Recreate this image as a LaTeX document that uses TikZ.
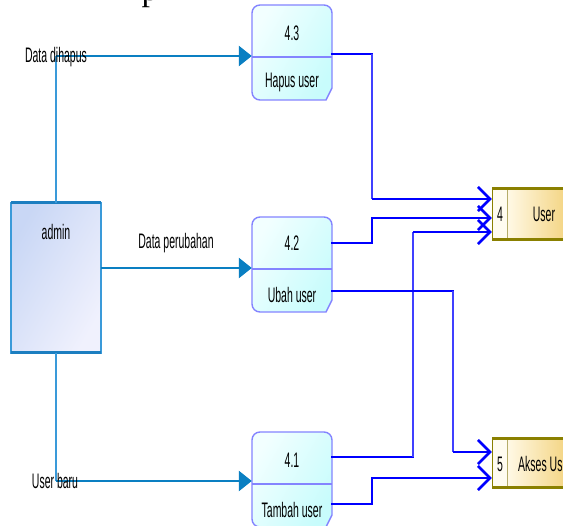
\documentclass[tikz,border=0pt]{standalone}
\usepackage{fontspec}
\setmainfont[FakeStretch=0.5]{Liberation Sans}
\newfontfamily\serifp{Liberation Serif}
\usetikzlibrary{arrows.meta,calc}
\definecolor{flowblue}{HTML}{0A7FC2}
\definecolor{flowthin}{HTML}{3A9AD9}
\definecolor{linkblue}{HTML}{0000FF}
\definecolor{procborder}{HTML}{8484FF}
\definecolor{procA}{HTML}{F2FFFF}
\definecolor{procB}{HTML}{C8FCFC}
\definecolor{admA}{HTML}{C9D7F5}
\definecolor{admB}{HTML}{F0F1FD}
\definecolor{admEdge}{HTML}{3A9AD9}
\definecolor{admThick}{HTML}{1C7EC0}
\definecolor{dsA}{HTML}{FFF9E6}
\definecolor{dsB}{HTML}{F2CF74}
\definecolor{dsCream}{HTML}{FFFCF0}
\definecolor{dsEdge}{HTML}{8A8000}
\definecolor{dsDiv}{HTML}{B5AD6A}
\tikzset{
  txt/.style={inner sep=0pt, font=\fontsize{21}{24}\selectfont, text=black},
  anchorbox/.style={rectangle, draw=none, inner sep=0pt},
  procline/.style={draw=procborder, line width=1.4pt},
  flowthick/.style={draw=flowblue, line width=2.6pt},
  flowarrow/.style={flowthick, -{Triangle[length=13pt,width=20pt]}},
  flowvert/.style={draw=flowthin, line width=1.1pt},
  linkthick/.style={draw=linkblue, line width=2.6pt, line cap=rect},
  linkthin/.style={draw=linkblue!75!white, line width=1.3pt},
  linkarrow/.style={draw=linkblue, line width=2.6pt, -{Straight Barb[length=12pt,width=24pt,line width=2.6pt]}},
}
\newcommand\procshape[4]{% L T R B
  \shade[left color=procA, right color=procB, shading angle=60]
    (#1,#2+8) arc[start angle=180,end angle=270,radius=8] -- (#3-8,#2)
    arc[start angle=270,end angle=360,radius=8] -- (#3,#4-12) -- (#3-6,#4)
    -- (#1+8,#4) arc[start angle=90,end angle=180,radius=8] -- cycle;
  \draw[procline]
    (#1,#2+8) arc[start angle=180,end angle=270,radius=8] -- (#3-8,#2)
    arc[start angle=270,end angle=360,radius=8] -- (#3,#4-12) -- (#3-6,#4)
    -- (#1+8,#4) arc[start angle=90,end angle=180,radius=8] -- cycle;
  \draw[procline] (#1,#2+52) -- (#3,#2+52);
}
\newcommand\storeshape[3]{% L T B
  \fill[dsCream] (#1,#2) rectangle (#1+15,#3);
  \shade[left color=dsA, right color=dsB] (#1+15,#2) rectangle (575,#3);
  \draw[dsEdge, line width=1pt] (#1,#2) -- (#1,#3);
  \draw[dsDiv, line width=1pt] (#1+15,#2) -- (#1+15,#3);
  \draw[dsEdge, line width=3pt] (#1,#2) -- (575,#2);
  \draw[dsEdge, line width=3pt] (#1,#3) -- (575,#3);
}
\begin{document}
\begin{tikzpicture}[x=1pt,y=-1pt]
\useasboundingbox (0,0) rectangle (563,526);
\clip (0,0) rectangle (563,526);
\fill[white] (0,0) rectangle (563,526);

% stray glyph at the top edge
\node[inner sep=0pt, anchor=base, font=\serifp\fontsize{34}{34}\selectfont] (topglyph) at (150,1) {p};

% shapes
\procshape{252}{5}{332}{100}
\procshape{252}{217}{332}{312}
\procshape{252}{432}{332}{527}
\storeshape{492}{189}{240}
\storeshape{492}{439}{488}
\shade[left color=admA, right color=admB, shading angle=60] (11,203) rectangle (101,353);
\draw[admEdge, line width=1.2pt] (11,203) rectangle (101,353);
\draw[admThick, line width=3pt] (11,203) -- (101,203);
\draw[admThick, line width=3pt] (11,353) -- (101,353);

% anchor nodes
\node[anchorbox, minimum width=80pt, minimum height=95pt] (p43) at (292,52.5) {};
\node[anchorbox, minimum width=80pt, minimum height=95pt] (p42) at (292,264.5) {};
\node[anchorbox, minimum width=80pt, minimum height=95pt] (p41) at (292,479.5) {};
\node[anchorbox, minimum width=90pt, minimum height=150pt] (admin) at (56,278) {};
\node[anchorbox, minimum width=108pt, minimum height=51pt] (ds4) at (546,214.5) {};
\node[anchorbox, minimum width=108pt, minimum height=49pt] (ds5) at (546,463.5) {};

% texts
\node[txt] (t43) at (292,33) {4.3};
\node[txt] (n43) at (292,82) {Hapus user};
\node[txt] (t42) at (292,243) {4.2};
\node[txt] (n42) at (292,295) {Ubah user};
\node[txt] (t41) at (292,460) {4.1};
\node[txt] (n41) at (292,510) {Tambah user};
\node[txt] (adm) at (56,232) {admin};
\node[txt] (s4n) at (500,214) {4};
\node[txt] (s4t) at (544,214) {User};
\node[txt] (s5n) at (500,464) {5};
\node[txt, anchor=west] (s5t) at (518,464) {Akses User};

% flows from admin
\coordinate (c1) at (56,56);
\coordinate (c3) at (56,481);
\draw[flowvert] (admin.north) -- (c1);
\draw[flowarrow] (c1) -- (p43.west |- c1);
\draw[flowarrow] (admin.east |- 0,268) -- (p42.west |- 0,268);
\draw[flowvert] (admin.south) -- (c3);
\draw[flowarrow] (c3) -- (p41.west |- c3);
\node[txt] (l1) at (56,57) {Data dihapus};
\node[txt] (l2) at (176,243) {Data perubahan};
\node[txt] (l3) at (55,481) {User baru};

% flows to stores
\coordinate (a1) at (372,54);
\coordinate (a2) at (372,199);
\draw[linkthick] (p43.east |- a1) -- (a1);
\draw[linkthin] (a1) -- (a2);
\draw[linkarrow] (a2) -- (ds4.west |- a2);

\coordinate (b1) at (372,243);
\coordinate (b2) at (372,218);
\draw[linkthick] (p42.east |- b1) -- (b1) -- (b2);
\draw[linkarrow] (b2) -- (ds4.west |- b2);

\coordinate (d1) at (413,457);
\coordinate (d2) at (413,232);
\draw[linkthick] (p41.east |- d1) -- (d1);
\draw[linkthin] (d1) -- (d2);
\draw[linkarrow] (d2) -- (ds4.west |- d2);

\coordinate (e1) at (453,291);
\coordinate (e2) at (453,452);
\draw[linkthick] (p42.east |- e1) -- (e1);
\draw[linkthin] (e1) -- (e2);
\draw[linkarrow] (e2) -- (ds5.west |- e2);

\coordinate (f1) at (372,504);
\coordinate (f2) at (372,478);
\draw[linkthick] (p41.east |- f1) -- (f1) -- (f2);
\draw[linkarrow] (f2) -- (ds5.west |- f2);
\end{tikzpicture}
\end{document}
